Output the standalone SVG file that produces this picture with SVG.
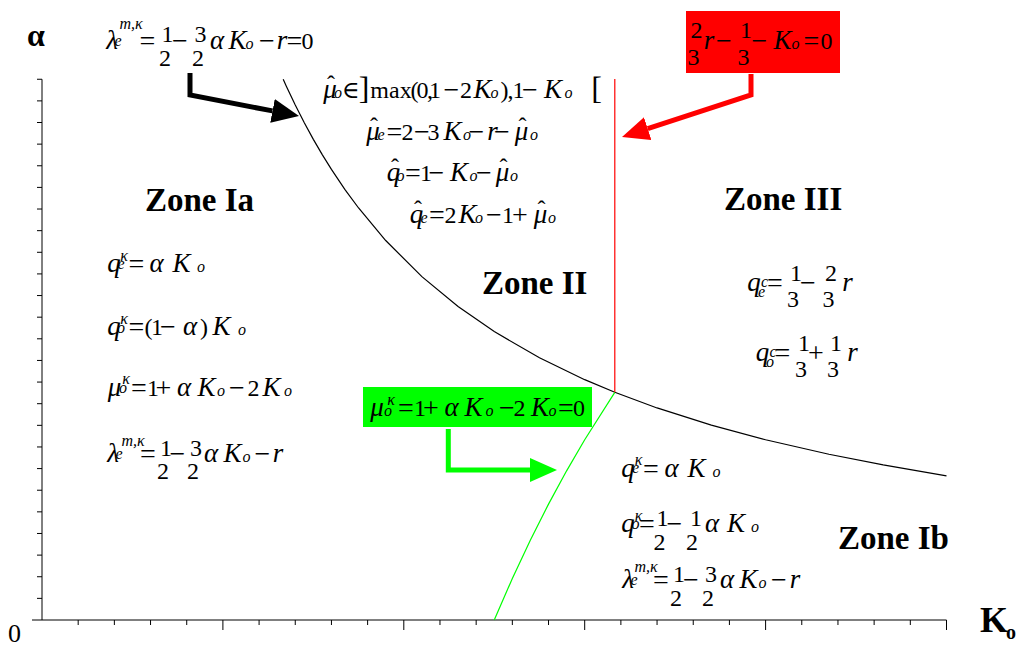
<svg xmlns="http://www.w3.org/2000/svg" width="1021" height="648" viewBox="0 0 1021 648">
<style>
text{font-family:"Liberation Serif","DejaVu Serif",serif;fill:#000}
.m{font-size:24px;text-anchor:middle}
.i{font-style:italic;font-size:27px}
.s{font-size:16px}
.op{font-size:28px}
.br{font-size:32px}
.zone{font-size:33px;font-weight:bold}
.axl{font-weight:bold}
.ax{stroke:#000;stroke-width:1;fill:none}
.curve{fill:none;stroke-width:1.2}
.shaft{fill:none;stroke-width:5;stroke-linejoin:miter;stroke-linecap:butt}
</style>
<defs>
<marker id="hk" markerUnits="userSpaceOnUse" markerWidth="27" markerHeight="24" viewBox="0 0 27 24" refX="0" refY="12" orient="auto"><path d="M0,0 L27,12 L0,24 z" fill="#000"/></marker>
<marker id="hr" markerUnits="userSpaceOnUse" markerWidth="27" markerHeight="24" viewBox="0 0 27 24" refX="0" refY="12" orient="auto"><path d="M0,0 L27,12 L0,24 z" fill="#FF0000"/></marker>
<marker id="hg" markerUnits="userSpaceOnUse" markerWidth="27" markerHeight="24" viewBox="0 0 27 24" refX="0" refY="12" orient="auto"><path d="M0,0 L27,12 L0,24 z" fill="#00FF00"/></marker>
</defs>
<rect width="1021" height="648" fill="#fff"/>

<g id="axes">
<path class="ax" d="M42,79.25 V620 M32,620 H946.5"/>
<path class="ax" d="M37,598.37H42M37,576.74H42M37,555.11H42M37,533.48H42M37,511.85H42M37,490.22H42M37,468.59H42M37,446.96H42M37,425.33H42M37,403.7H42M37,382.07H42M37,360.44H42M37,338.81H42M37,317.18H42M37,295.55H42M37,273.92H42M37,252.29H42M37,230.66H42M37,209.03H42M37,187.4H42M37,165.77H42M37,144.14H42M37,122.51H42M37,100.88H42M37,79.25H42"/>
<path class="ax" d="M78.18,620V625M114.36,620V625M150.54,620V625M186.72,620V625M222.9,620V630M259.08,620V625M295.26,620V625M331.44,620V625M367.62,620V625M403.8,620V630M439.98,620V625M476.16,620V625M512.34,620V625M548.52,620V625M584.7,620V630M620.88,620V625M657.06,620V625M693.24,620V625M729.42,620V625M765.6,620V630M801.78,620V625M837.96,620V625M874.14,620V625M910.32,620V625M946.5,620V630"/>
<text class="axl" x="27" y="46" font-size="32">α</text>
<text x="8" y="642" font-size="26">0</text>
<text class="axl" x="980" y="632" font-size="36">K</text>
<text class="axl" x="1006" y="639" font-size="20">o</text>
</g>

<g id="connectors">
<polyline class="curve" stroke="#000" points="283.2,79.25 286.2,85.93 295.26,105 304.3,122.76 313.35,139.33 322.4,154.83 331.44,169.38 345,189.55 358.58,208 385.71,240.53 421.89,276.67 458.07,306.52 494.25,331.6 539.48,357.82 584.7,379.67 614.8,392.31 657.06,407.94 711.33,425.13 765.6,439.75 828.92,454.25 883.19,464.95 946.5,475.8"/>
<line class="curve" stroke="#FF0000" x1="614.8" y1="79" x2="614.8" y2="392.3"/>
<polyline class="curve" stroke="#00FF00" points="494.25,620 512.34,578.4 530.43,539.89 548.52,504.12 566.61,470.83 584.7,439.75 614.8,392.31"/>
<polyline class="shaft" stroke="#000" points="190,73 190,95 272.5,110.9" marker-end="url(#hk)"/>
<polyline class="shaft" stroke="#FF0000" points="751,74 751,95 647.7,128.6" marker-end="url(#hr)"/>
<polyline class="shaft" stroke="#00FF00" points="448.3,429 448.3,470 530,470" marker-end="url(#hg)"/>
</g>

<g id="label-lambda-boundary">
<text class="m">
<tspan class="i" x="112" y="48.5">λ</tspan><tspan class="i s" x="131" y="29">m,κ</tspan><tspan class="i s" x="121" y="46">e</tspan>
<tspan class="op" x="150.5" y="49.5">=</tspan>
<tspan x="167.5" y="42">1</tspan><tspan x="168" y="65.5">2</tspan>
<tspan class="op" x="183" y="49.5">−</tspan>
<tspan x="200.5" y="42">3</tspan><tspan x="201" y="65.5">2</tspan>
<tspan class="i" x="217" y="48.5">α</tspan><tspan class="i" x="237.5" y="48.5">K</tspan><tspan class="i s" x="252.5" y="48.5">o</tspan>
<tspan class="op" x="267" y="49.5">−</tspan><tspan class="i" x="282" y="48.5">r</tspan><tspan class="op" x="294.5" y="49.5">=</tspan><tspan x="307.5" y="48.5">0</tspan>
</text>
</g>

<g id="label-red-boundary">
<rect x="686" y="11" width="154" height="62" fill="#FF0000"/>
<text class="m">
<tspan x="696.5" y="37.5">2</tspan><tspan x="696.5" y="65">3</tspan>
<tspan class="i" x="712" y="48.5">r</tspan>
<tspan class="op" x="727" y="49.5">−</tspan>
<tspan x="746" y="37.5">1</tspan><tspan x="746.5" y="65">3</tspan>
<tspan class="op" x="762.5" y="49.5">−</tspan>
<tspan class="i" x="782.5" y="48.5">K</tspan><tspan class="i s" x="798.5" y="48.5">o</tspan>
<tspan class="op" x="811.5" y="49.5">=</tspan><tspan x="826.5" y="48.5">0</tspan>
</text>
</g>

<g id="label-green-boundary">
<rect x="363" y="387" width="229" height="40" fill="#00FF00"/>
<text class="m">
<tspan class="i" x="377" y="416">μ</tspan><tspan class="i s" x="391" y="405">κ</tspan><tspan class="i s" x="391" y="416">o</tspan>
<tspan class="op" x="406" y="417">=</tspan><tspan x="420" y="416">1</tspan><tspan class="op" x="434" y="417">+</tspan>
<tspan class="i" x="451.5" y="416">α</tspan><tspan class="i" x="473.5" y="416">K</tspan><tspan class="i s" x="492.5" y="416">o</tspan>
<tspan class="op" x="507" y="417">−</tspan><tspan x="522.5" y="416">2</tspan>
<tspan class="i" x="540" y="416">K</tspan><tspan class="i s" x="555.5" y="416">o</tspan>
<tspan class="op" x="566" y="417">=</tspan><tspan x="579" y="416">0</tspan>
</text>
</g>

<g id="zone-Ia">
<text class="zone" x="145" y="211">Zone Ia</text>
<text class="m">
<tspan class="i" x="114" y="272">q</tspan><tspan class="i s" x="124" y="260.5">κ</tspan><tspan class="i s" x="124" y="268.5">e</tspan>
<tspan class="op" x="136.5" y="273">=</tspan><tspan class="i" x="156.5" y="272">α</tspan><tspan class="i" x="181.5" y="272">K</tspan><tspan class="i s" x="201" y="272">o</tspan>
</text>
<text class="m">
<tspan class="i" x="114" y="335">q</tspan><tspan class="i s" x="124" y="324">κ</tspan><tspan class="i s" x="124" y="332.5">o</tspan>
<tspan class="op" x="136.5" y="336">=</tspan><tspan x="148.5" y="335">(</tspan><tspan x="157" y="335">1</tspan><tspan class="op" x="171" y="336">−</tspan>
<tspan class="i" x="190" y="335">α</tspan><tspan x="204" y="335">)</tspan><tspan class="i" x="221.5" y="335">K</tspan><tspan class="i s" x="242" y="335">o</tspan>
</text>
<text class="m">
<tspan class="i" x="114.5" y="396">μ</tspan><tspan class="i s" x="126" y="384">κ</tspan><tspan class="i s" x="126" y="393">o</tspan>
<tspan class="op" x="139" y="397">=</tspan><tspan x="153" y="396">1</tspan><tspan class="op" x="166.5" y="397">+</tspan>
<tspan class="i" x="184" y="396">α</tspan><tspan class="i" x="206.5" y="396">K</tspan><tspan class="i s" x="224" y="396">o</tspan>
<tspan class="op" x="237" y="397">−</tspan><tspan x="253.5" y="396">2</tspan><tspan class="i" x="271.5" y="396">K</tspan><tspan class="i s" x="288" y="396">o</tspan>
</text>
<text class="m">
<tspan class="i" x="113" y="462">λ</tspan><tspan class="i s" x="133" y="446">m,κ</tspan><tspan class="i s" x="122" y="459">e</tspan>
<tspan class="op" x="151" y="463">=</tspan>
<tspan x="166" y="455.5">1</tspan><tspan x="166" y="478.5">2</tspan>
<tspan class="op" x="180.5" y="463">−</tspan>
<tspan x="196" y="455.5">3</tspan><tspan x="196" y="478.5">2</tspan>
<tspan class="i" x="211" y="462">α</tspan><tspan class="i" x="232.5" y="462">K</tspan><tspan class="i s" x="249.5" y="462">o</tspan>
<tspan class="op" x="262.5" y="463">−</tspan><tspan class="i" x="278" y="462">r</tspan>
</text>
</g>

<g id="zone-II">
<text class="zone" x="482" y="294">Zone II</text>
<text class="m">
<tspan x="331" y="92">ˆ</tspan><tspan class="i" x="330" y="98">μ</tspan><tspan class="i s" x="341" y="98">o</tspan>
<tspan x="351" y="98">∈</tspan><tspan class="br" x="367" y="99">]</tspan>
<tspan x="391" y="98">max</tspan><tspan x="414.5" y="98">(</tspan><tspan x="422.5" y="98">0</tspan><tspan x="430" y="98">,</tspan><tspan x="438" y="98">1</tspan>
<tspan class="op" x="451.5" y="99">−</tspan><tspan x="466" y="98">2</tspan><tspan class="i" x="482.5" y="98">K</tspan><tspan class="i s" x="497.5" y="98">o</tspan>
<tspan x="504.5" y="98">)</tspan><tspan x="510.5" y="98">,</tspan><tspan x="518.5" y="98">1</tspan><tspan class="op" x="533" y="99">−</tspan>
<tspan class="i" x="553" y="98">K</tspan><tspan class="i s" x="568.5" y="98">o</tspan><tspan class="br" x="596.5" y="99">[</tspan>
</text>
<text class="m">
<tspan x="374" y="133.5">ˆ</tspan><tspan class="i" x="373" y="139.5">μ</tspan><tspan class="i s" x="384" y="139.5">e</tspan>
<tspan class="op" x="394.5" y="140.5">=</tspan><tspan x="407.5" y="139.5">2</tspan><tspan class="op" x="422" y="140.5">−</tspan><tspan x="436.5" y="139.5">3</tspan>
<tspan class="i" x="452.5" y="139.5">K</tspan><tspan class="i s" x="467" y="139.5">o</tspan><tspan class="op" x="479.5" y="140.5">−</tspan>
<tspan class="i" x="492.5" y="139.5">r</tspan><tspan class="op" x="505" y="140.5">−</tspan>
<tspan x="522.5" y="133.5">ˆ</tspan><tspan class="i" x="521.5" y="139.5">μ</tspan><tspan class="i s" x="534" y="139.5">o</tspan>
</text>
<text class="m">
<tspan x="395" y="175">ˆ</tspan><tspan class="i" x="393.5" y="181">q</tspan><tspan class="i s" x="403.5" y="181">o</tspan>
<tspan class="op" x="413" y="182">=</tspan><tspan x="426" y="181">1</tspan><tspan class="op" x="439.5" y="182">−</tspan>
<tspan class="i" x="459" y="181">K</tspan><tspan class="i s" x="473.5" y="181">o</tspan><tspan class="op" x="487" y="182">−</tspan>
<tspan x="503.5" y="175">ˆ</tspan><tspan class="i" x="502.5" y="181">μ</tspan><tspan class="i s" x="514" y="181">o</tspan>
</text>
<text class="m">
<tspan x="418" y="217">ˆ</tspan><tspan class="i" x="416.5" y="223">q</tspan><tspan class="i s" x="427" y="223">e</tspan>
<tspan class="op" x="437" y="224">=</tspan><tspan x="450.5" y="223">2</tspan><tspan class="i" x="467.5" y="223">K</tspan><tspan class="i s" x="482" y="223">o</tspan>
<tspan class="op" x="494" y="224">−</tspan><tspan x="508" y="223">1</tspan><tspan class="op" x="523" y="224">+</tspan>
<tspan x="541.5" y="217">ˆ</tspan><tspan class="i" x="540.5" y="223">μ</tspan><tspan class="i s" x="552" y="223">o</tspan>
</text>
</g>

<g id="zone-III">
<text class="zone" x="724" y="210">Zone III</text>
<text class="m">
<tspan class="i" x="754" y="291">q</tspan><tspan class="i s" x="764.5" y="287">c</tspan><tspan class="i s" x="764.5" y="297">e</tspan>
<tspan class="op" x="778" y="292">=</tspan>
<tspan x="796" y="280.5">1</tspan><tspan x="796" y="306.5">3</tspan>
<tspan class="op" x="811" y="292">−</tspan>
<tspan x="831" y="280.5">2</tspan><tspan x="831.5" y="306.5">3</tspan>
<tspan class="i" x="847.5" y="291">r</tspan>
</text>
<text class="m">
<tspan class="i" x="762.5" y="361">q</tspan><tspan class="i s" x="773" y="357">c</tspan><tspan class="i s" x="773" y="367">o</tspan>
<tspan class="op" x="785.5" y="362">=</tspan>
<tspan x="804" y="350.5">1</tspan><tspan x="804" y="376.5">3</tspan>
<tspan class="op" x="819" y="362">+</tspan>
<tspan x="836" y="350.5">1</tspan><tspan x="836" y="376.5">3</tspan>
<tspan class="i" x="852.5" y="361">r</tspan>
</text>
</g>

<g id="zone-Ib">
<text class="zone" x="838" y="549">Zone Ib</text>
<text class="m">
<tspan class="i" x="628" y="476.5">q</tspan><tspan class="i s" x="638.5" y="465">κ</tspan><tspan class="i s" x="638.5" y="473">e</tspan>
<tspan class="op" x="651" y="477.5">=</tspan><tspan class="i" x="671.5" y="476.5">α</tspan><tspan class="i" x="696.5" y="476.5">K</tspan><tspan class="i s" x="716.5" y="476.5">o</tspan>
</text>
<text class="m">
<tspan class="i" x="628" y="532">q</tspan><tspan class="i s" x="638.5" y="521">κ</tspan><tspan class="i s" x="638.5" y="529">o</tspan>
<tspan class="op" x="650" y="533">=</tspan>
<tspan x="662.5" y="526">1</tspan><tspan x="662.5" y="550">2</tspan>
<tspan class="op" x="677.5" y="533">−</tspan>
<tspan x="696" y="526">1</tspan><tspan x="695" y="550">2</tspan>
<tspan class="i" x="712" y="532">α</tspan><tspan class="i" x="736" y="532">K</tspan><tspan class="i s" x="755" y="532">o</tspan>
</text>
<text class="m">
<tspan class="i" x="628" y="588">λ</tspan><tspan class="i s" x="646" y="572">m,κ</tspan><tspan class="i s" x="637" y="585">e</tspan>
<tspan class="op" x="664" y="589">=</tspan>
<tspan x="679" y="582">1</tspan><tspan x="679" y="606">2</tspan>
<tspan class="op" x="694" y="589">−</tspan>
<tspan x="711" y="582">3</tspan><tspan x="711" y="606">2</tspan>
<tspan class="i" x="727" y="588">α</tspan><tspan class="i" x="748.5" y="588">K</tspan><tspan class="i s" x="765.5" y="588">o</tspan>
<tspan class="op" x="779" y="589">−</tspan><tspan class="i" x="795" y="588">r</tspan>
</text>
</g>
</svg>
